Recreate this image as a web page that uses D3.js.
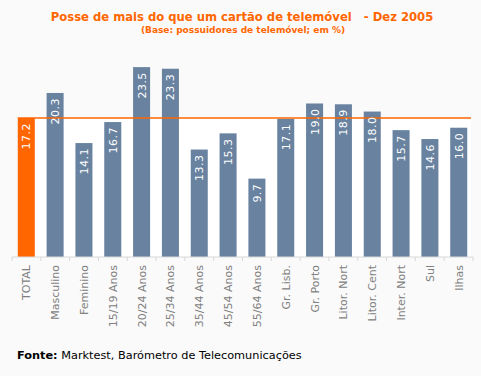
<!DOCTYPE html>
<html>
<head>
<meta charset="utf-8">
<script src="https://cdn.jsdelivr.net/npm/d3@7"></script>
<style>
  body { margin: 0; background: #fafafa; }
  text { font-family: "DejaVu Sans", Verdana, sans-serif; }
</style>
</head>
<body>
<div id="chart"></div>
<script>
const width = 481;
const height = 376;

const categories = ["TOTAL", "Masculino", "Feminino", "15/19 Anos", "20/24 Anos", "25/34 Anos",
  "35/44 Anos", "45/54 Anos", "55/64 Anos", "Gr. Lisb.", "Gr. Porto", "Litor. Nort",
  "Litor. Cent", "Inter. Nort", "Sul", "Ilhas"];
const values = [17.2, 20.3, 14.1, 16.7, 23.5, 23.3, 13.3, 15.3, 9.7, 17.1, 19.0, 18.9, 18.0, 15.7, 14.6, 16.0];
const totalValue = 17.2;

const svg = d3
  .select("#chart")
  .append("svg")
  .attr("width", width)
  .attr("height", height);

svg.append("rect").attr("width", width).attr("height", height).attr("fill", "#fafafa");

const xScale = d3
  .scaleBand()
  .domain(categories)
  .range([12, 473])
  .paddingInner(0.41)
  .paddingOuter(0.2);

const yScale = d3.scaleLinear().domain([0, 25]).range([257, 55]);

// white band below the total reference
const x0 = xScale(categories[0]);
svg.append("rect")
  .attr("x", x0)
  .attr("y", yScale(totalValue))
  .attr("width", 471 - x0)
  .attr("height", yScale(0) - yScale(totalValue))
  .attr("fill", "#ffffff");

// bars
svg.selectAll("rect.bar")
  .data(values)
  .enter()
  .append("rect")
  .attr("class", "bar")
  .attr("x", (d, i) => xScale(categories[i]))
  .attr("y", (d) => yScale(d))
  .attr("width", xScale.bandwidth())
  .attr("height", (d) => yScale(0) - yScale(d))
  .attr("fill", (d, i) => (i === 0 ? "#ff6600" : "#6882a0"));

// reference line
svg.append("line")
  .attr("x1", x0)
  .attr("x2", 471)
  .attr("y1", yScale(totalValue))
  .attr("y2", yScale(totalValue))
  .attr("stroke", "#ff6600")
  .attr("stroke-width", 1.5);

// value labels
svg.selectAll("text.val")
  .data(values)
  .enter()
  .append("text")
  .attr("class", "val")
  .attr("transform", (d, i) => {
    const cx = xScale(categories[i]) + xScale.bandwidth() / 2;
    return `translate(${cx + 4},${yScale(d) + 5}) rotate(-90)`;
  })
  .attr("text-anchor", "end")
  .attr("font-size", 11)
  .attr("fill", "#fff")
  .attr("letter-spacing", 0.5)
  .text((d) => d.toFixed(1));

// x axis
const axis = svg.append("g")
  .attr("transform", `translate(0,${yScale(0)})`);
axis.append("line")
  .attr("x1", 12).attr("x2", 473)
  .attr("stroke", "#d8d8d8");
axis.selectAll("line.tick")
  .data(d3.range(categories.length + 1))
  .enter()
  .append("line")
  .attr("class", "tick")
  .attr("x1", (i) => 12 + i * (461 / categories.length))
  .attr("x2", (i) => 12 + i * (461 / categories.length))
  .attr("y1", 0).attr("y2", 4)
  .attr("stroke", "#d8d8d8");

svg.selectAll("text.cat")
  .data(categories)
  .enter()
  .append("text")
  .attr("class", "cat")
  .attr("transform", (d) => {
    const cx = xScale(d) + xScale.bandwidth() / 2;
    return `translate(${cx + 4},265) rotate(-90)`;
  })
  .attr("text-anchor", "end")
  .attr("font-size", 11)
  .attr("fill", "#808080")
  .text((d) => d);

// titles
svg.append("text")
  .attr("x", 242).attr("y", 21)
  .attr("text-anchor", "middle")
  .attr("font-size", 11.6)
  .attr("font-weight", "bold")
  .attr("fill", "#ff6600")
  .attr("xml:space", "preserve")
  .text("Posse de mais do que um cartão de telemóvel   - Dez 2005");

svg.append("text")
  .attr("x", 243).attr("y", 33)
  .attr("text-anchor", "middle")
  .attr("font-size", 9)
  .attr("font-weight", "bold")
  .attr("fill", "#ff6600")
  .text("(Base: possuidores de telemóvel; em %)");

const fonte = svg.append("text")
  .attr("x", 17).attr("y", 359)
  .attr("font-size", 11.3)
  .attr("fill", "#000");
fonte.append("tspan").attr("font-weight", "bold").text("Fonte:");
fonte.append("tspan").text(" Marktest, Barómetro de Telecomunicações");
</script>
</body>
</html>
